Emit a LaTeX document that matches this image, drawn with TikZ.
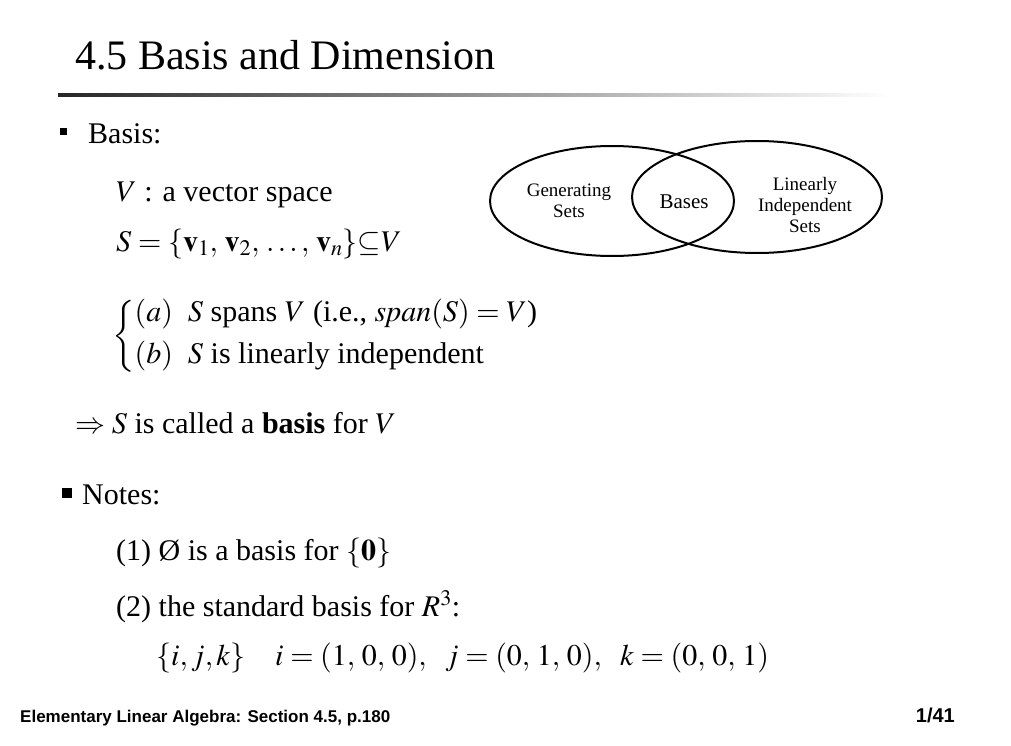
\documentclass[tikz,border=0pt]{standalone}
\usepackage{amsmath}
\usepackage{mathptmx}
\usepackage[no-math]{fontspec}
\setmainfont{Liberation Serif}
\newfontfamily\footfont{Liberation Sans}
\begin{document}
\begin{tikzpicture}[x=1pt,y=-1pt,
  txt/.style={anchor=base west,inner sep=0pt,font=\fontsize{30}{34}\selectfont},
  small/.style={align=center,font=\fontsize{19}{21}\selectfont,inner sep=0pt},
  venn/.style={draw,line width=2pt}]
\useasboundingbox (0,0) rectangle (1011,746);
\fill[white] (0,0) rectangle (1011,746);
\node[anchor=base west,inner sep=0pt,font=\fontsize{42}{46}\selectfont] (title) at (75,70) {4.5 Basis and Dimension};
\shade[left color=black!85,right color=white] (58,93.5) rectangle (890,97);
\fill (60,128) rectangle (67,135);
\node[txt] (basis) at (88,144) {Basis:};
\node[txt] (v) at (116,201) {$V$ : a vector space};
\node[txt] (s) at (116,251) {$S=\{\mathbf v_1,\, \mathbf v_2,\, \dots,\, \mathbf v_n\}{\subseteq}V$};
\node[txt,anchor=west] (a) at (112,336) {$\left\{\begin{array}{@{}l}(a)\ \ S \text{ spans } V \text{ (i.e., } \mathit{span}(S)=V\text{)}\\[8pt](b)\ \ S \text{ is linearly independent}\end{array}\right.$};
\node[txt] (imp) at (75,433) {$\Rightarrow S$ is called a \textbf{basis} for $V$};
\fill (62,488) rectangle (72,498);
\node[txt] (notes) at (82,504) {Notes:};
\node[txt] (n1) at (116,560) {(1) Ø is a basis for $\{\mathbf 0\}$};
\node[txt] (n2) at (116,616) {(2) the standard basis for $R^3$:};
\node[txt] (n3) at (156,665) {$\{i, j, k\}\quad i=(1,\,0,\,0),\ \ j=(0,\,1,\,0),\ \ k=(0,\,0,\,1)$};
\draw[venn] (612,201) ellipse [x radius=122,y radius=55];
\draw[venn] (757,197) ellipse [x radius=125,y radius=56];
\node[small] (gen) at (569,201) {Generating\\Sets};
\node[small,font=\fontsize{21}{23}\selectfont] (bases) at (684,202) {Bases};
\node[small] (lin) at (805,205) {Linearly\\Independent\\Sets};
\node[anchor=base west,inner sep=0pt,font=\footfont\bfseries\fontsize{17}{20}\selectfont] (foot) at (20,722) {Elementary Linear Algebra: Section 4.5, p.180};
\node[anchor=base east,inner sep=0pt,font=\footfont\bfseries\fontsize{20}{22}\selectfont] (page) at (955,722) {1/41};
\end{tikzpicture}
\end{document}
